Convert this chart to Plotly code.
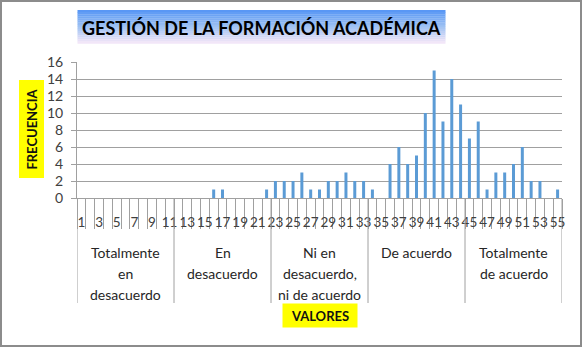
import plotly.graph_objects as go

# ---------------- data ----------------
categories = list(range(1, 56))
frecuencia = [0, 0, 0, 0, 0, 0, 0, 0, 0, 0, 0,
              0, 0, 0, 0, 1, 1, 0, 0, 0, 0, 1,
              2, 2, 2, 3, 1, 1, 2, 2, 3, 2, 2,
              1, 0, 4, 6, 4, 5, 10, 15, 9, 14, 11,
              7, 9, 1, 3, 3, 4, 6, 2, 2, 0, 1]
tick_values = [c for c in categories if c % 2 == 1]
tick_labels = [str(c) for c in tick_values]
group_labels = [["Totalmente", "en", "desacuerdo"],
                ["En", "desacuerdo"],
                ["Ni en", "desacuerdo,", "ni de acuerdo"],
                ["De acuerdo"],
                ["Totalmente", "de acuerdo"]]
group_sizes = [11, 11, 11, 11, 11]
title_text = "GESTIÓN DE LA FORMACIÓN ACADÉMICA"
x_title = "VALORES"
y_title = "FRECUENCIA"

# ---------------- layout geometry ----------------
W_FIG, H_FIG = 583, 348
L, R, T, B = 77, 21, 62, 150
PW = W_FIG - L - R
PH = H_FIG - T - B


def xp(px):
    return (px - L) / PW


def yp(py):
    return 1 - (py - T) / PH


FONT = "Lato, Carlito, Calibri, 'Open Sans', sans-serif"
GRID = "#A0A0A0"
TXT = "#404040"

fig = go.Figure()
fig.add_trace(go.Bar(x=categories, y=frecuencia,
                     marker=dict(color="#5B9BD5", line=dict(width=0)),
                     hoverinfo="x+y"))

shapes = []
annotations = []

# title gradient background
top_c = (84, 148, 245)
mid_c = (160, 195, 243)
bot_c = (248, 232, 248)
n_bands = 16
ty0, ty1 = 10, 43.5
tx0, tx1 = 77.5, 445.5
for i in range(n_bands):
    f = (i + 0.5) / n_bands
    if f < 0.5:
        a, b, g = top_c, mid_c, f / 0.5
    else:
        a, b, g = mid_c, bot_c, (f - 0.5) / 0.5
    col = "rgb(%d,%d,%d)" % tuple(round(a[k] + (b[k] - a[k]) * g) for k in range(3))
    y_top = ty0 + (ty1 - ty0) * i / n_bands
    y_bot = ty0 + (ty1 - ty0) * (i + 1) / n_bands + 0.3
    shapes.append(dict(type="rect", xref="paper", yref="paper",
                       x0=xp(tx0), x1=xp(tx1), y0=yp(y_bot), y1=yp(y_top),
                       fillcolor=col, line=dict(width=0), layer="below"))

annotations.append(dict(text="<b>" + title_text + "</b>", xref="paper", yref="paper",
                        x=xp((tx0 + tx1) / 2), y=yp(27.5), showarrow=False,
                        font=dict(family=FONT, size=18, color="#000000"),
                        xanchor="center", yanchor="middle"))

# outer border
shapes.append(dict(type="rect", xref="paper", yref="paper",
                   x0=xp(1), x1=xp(581), y0=yp(346), y1=yp(1),
                   line=dict(color="#8C8C8C", width=2), fillcolor="rgba(0,0,0,0)"))

# group dividers and labels
bounds = [0.5]
for s in group_sizes:
    bounds.append(bounds[-1] + s)
for bx in bounds:
    shapes.append(dict(type="line", xref="x", yref="paper", x0=bx, x1=bx,
                       y0=0, y1=yp(303), line=dict(color=GRID, width=1)))
for gi, lines in enumerate(group_labels):
    cx = (bounds[gi] + bounds[gi + 1]) / 2
    for li, line in enumerate(lines):
        annotations.append(dict(text=line, xref="x", yref="paper", x=cx,
                                y=yp(252 + 21 * li), showarrow=False,
                                font=dict(family=FONT, size=14, color="#262626"),
                                xanchor="center", yanchor="middle"))

# axis titles with yellow boxes
annotations.append(dict(text="<b>" + x_title + "</b>", xref="paper", yref="paper",
                        x=0.5, y=yp(315.5), showarrow=False, bgcolor="#FFFF00",
                        font=dict(family=FONT, size=13, color="#111111"),
                        width=72, height=21, borderpad=1,
                        xanchor="center", yanchor="middle"))
annotations.append(dict(text="<b>" + y_title + "</b>", xref="paper", yref="paper",
                        x=xp(31), y=yp(129.5), showarrow=False, bgcolor="#FFFF00",
                        textangle=-90,
                        font=dict(family=FONT, size=13, color="#111111"),
                        width=95, height=22, borderpad=1,
                        xanchor="center", yanchor="middle"))

fig.update_layout(
    width=W_FIG, height=H_FIG,
    margin=dict(l=L, r=R, t=T, b=B),
    paper_bgcolor="white", plot_bgcolor="white",
    showlegend=False, bargap=0.66,
    shapes=shapes, annotations=annotations,
    xaxis=dict(type="linear", range=[0.5, 55.5],
               tickmode="array", tickvals=tick_values, ticktext=tick_labels,
               ticks="outside", ticklen=12, tickcolor="rgba(0,0,0,0)",
               tickangle=0,
               tickfont=dict(family=FONT, size=13.5, color=TXT),
               showgrid=False, zeroline=False,
               showline=True, linecolor=GRID, linewidth=1,
               minor=dict(tickmode="array", tickvals=[k + 0.5 for k in range(0, 56)],
                          ticks="outside", ticklen=30, tickcolor=GRID, tickwidth=1,
                          showgrid=False)),
    yaxis=dict(range=[0, 16], dtick=2, tick0=0,
               ticks="outside", ticklen=5, tickcolor=GRID,
               tickfont=dict(family=FONT, size=14, color=TXT),
               showgrid=True, gridcolor=GRID, gridwidth=1,
               zeroline=False, showline=True, linecolor=GRID, linewidth=1,
               ticklabelstandoff=5),
)

fig.write_html("out.html", config={"displayModeBar": False},
               post_script="document.body.style.margin='0';document.body.style.overflow='hidden';")
